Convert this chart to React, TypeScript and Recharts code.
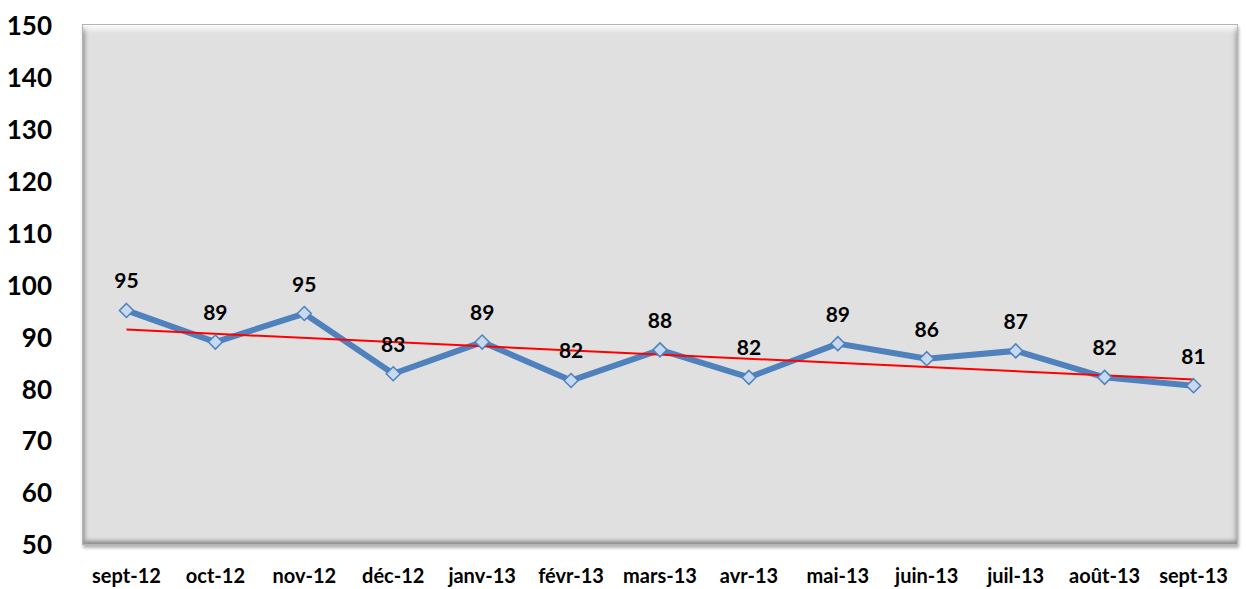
import React from 'react';
import { LineChart, Line, XAxis, YAxis, LabelList } from 'recharts';

const months = [
  'sept-12', 'oct-12', 'nov-12', 'déc-12', 'janv-13', 'févr-13', 'mars-13',
  'avr-13', 'mai-13', 'juin-13', 'juil-13', 'août-13', 'sept-13',
];
const values = [95.2, 89.1, 94.6, 83.0, 89.1, 81.7, 87.6, 82.3, 88.8, 85.9, 87.4, 82.3, 80.7];
// trend line: only the two ends, drawn straight between them
const trend = [91.5, null, null, null, null, null, null, null, null, null, null, null, 81.9];
const yTicks = [50, 60, 70, 80, 90, 100, 110, 120, 130, 140, 150];

const chartData = months.map((m, i) => ({ month: m, value: values[i], trend: trend[i] }));

const FONT = 'Lato, "Open Sans", sans-serif';

function Diamond(props: any) {
  const { cx, cy } = props;
  if (cx == null || cy == null) return null;
  const r = 7;
  return (
    <path
      d={`M${cx},${cy - r} L${cx + r},${cy} L${cx},${cy + r} L${cx - r},${cy} Z`}
      fill="#c6d9f1"
      stroke="#4f81bd"
      strokeWidth={1.5}
    />
  );
}

export default function App() {
  return (
    <div style={{ position: 'absolute', left: 0, top: 0, width: 1246, height: 589, background: '#fff' }}>
      {/* bevelled plot panel behind the svg */}
      <div
        style={{
          position: 'absolute',
          left: 82,
          top: 24,
          width: 1156,
          height: 521,
          boxSizing: 'border-box',
          background: '#e0e0e0',
          border: '1px solid #b5b5b5',
          boxShadow:
            'inset 0 10px 6px -6px #ffffff, inset 5px 0 4px -3px #9a9a9a, inset 0 -5px 4px -2px #8a8a8a, inset -4px 0 4px -2px #b0b0b0, 1px 3px 3px rgba(0,0,0,0.3)',
        }}
      />
      <LineChart
        width={1246}
        height={589}
        data={chartData}
        margin={{ top: 26, right: 8, bottom: 0, left: 0 }}
        style={{ position: 'absolute', left: 0, top: 0 }}
      >
        <XAxis
          dataKey="month"
          scale="band"
          axisLine={false}
          tickLine={false}
          height={44}
          interval={0}
          tick={{ fill: '#000', fontSize: 20, fontWeight: 700, fontFamily: FONT }}
          tickMargin={18}
        />
        <YAxis
          domain={[50, 150]}
          ticks={yTicks}
          axisLine={false}
          tickLine={false}
          width={82}
          interval={0}
          tick={{ fill: '#000', fontSize: 26, fontWeight: 700, fontFamily: FONT }}
          tickMargin={24}
        />
        <Line
          dataKey="value"
          stroke="#4f81bd"
          strokeWidth={6}
          dot={<Diamond />}
          activeDot={false}
          isAnimationActive={false}
        >
          <LabelList
            dataKey="value"
            position="top"
            offset={22}
            formatter={(v: any) => Math.round(Number(v))}
            style={{ fill: '#000', fontSize: 21, fontWeight: 700, fontFamily: FONT }}
          />
        </Line>
        <Line
          dataKey="trend"
          stroke="#ff0000"
          strokeWidth={2}
          dot={false}
          activeDot={false}
          connectNulls
          isAnimationActive={false}
        />
      </LineChart>
    </div>
  );
}
